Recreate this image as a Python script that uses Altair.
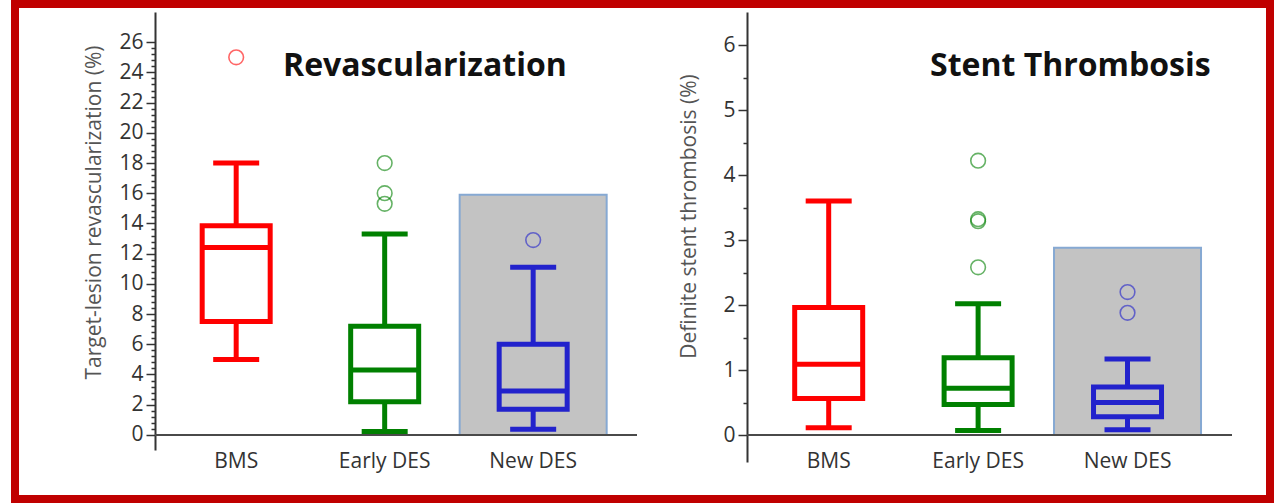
import altair as alt
import pandas as pd

cats = ["BMS", "Early DES", "New DES"]
colors = ["#ff0000", "#008000", "#2222cc"]

# Target-lesion revascularization (%)
tlr_low = [5.0, 0.22, 0.38]
tlr_q1 = [7.5, 2.2, 1.7]
tlr_med = [12.4, 4.3, 2.9]
tlr_q3 = [13.85, 7.2, 6.0]
tlr_high = [18.0, 13.3, 11.1]
tlr_out_cat = ["BMS", "Early DES", "Early DES", "Early DES", "New DES"]
tlr_out_val = [25.0, 18.0, 16.0, 15.3, 12.9]
tlr_shade = 15.9

# Definite stent thrombosis (%)
st_low = [0.11, 0.07, 0.08]
st_q1 = [0.56, 0.47, 0.28]
st_med = [1.09, 0.72, 0.50]
st_q3 = [1.96, 1.19, 0.74]
st_high = [3.6, 2.02, 1.17]
st_out_cat = ["Early DES", "Early DES", "Early DES", "Early DES", "New DES", "New DES"]
st_out_val = [4.22, 3.32, 3.29, 2.58, 2.2, 1.88]
st_shade = 2.88

# axis tick positions (major labelled, minor unlabelled)
tlr_ticks = [round(i * 0.4, 1) for i in range(66)]
st_ticks = [round(i * 0.5, 1) for i in range(13)]

FONT = "Open Sans"


def panel(low, q1, med, q3, high, out_cat, out_val, shade, ydom, yvals, major_test,
          ytitle, title_text, title_dx, width, height, title_x, title_y, xlabel_pad,
          with_frame=False):
    box = pd.DataFrame({"cat": cats, "low": low, "q1": q1, "med": med, "q3": q3, "high": high})
    out = pd.DataFrame({"cat": out_cat, "val": out_val})
    shade_df = pd.DataFrame({"cat": ["New DES"], "top": [shade], "zero": [0.0]})
    base_df = pd.DataFrame({"zero": [0.0]})

    xscale = alt.Scale(domain=cats, paddingInner=0, paddingOuter=0.123, align=0.19)
    xaxis = alt.Axis(title=None, labelAngle=0, ticks=False, tickSize=0, domain=False,
                     labelFont=FONT, labelFontSize=21, labelColor="#333",
                     labelBaseline="middle", labelPadding=xlabel_pad)
    x = alt.X("cat:N", scale=xscale, sort=cats, axis=xaxis)

    yscale = alt.Scale(domain=ydom, nice=False, zero=False)
    yaxis = alt.Axis(
        values=yvals, title=ytitle, grid=False, labelOverlap=False,
        labelExpr=f"({major_test}) ? toString(round(datum.value)) : ''",
        tickSize={"condition": {"test": major_test, "value": 9}, "value": 4},
        tickColor="#333", tickWidth=1.5, domainColor="#333", domainWidth=2,
        labelFont=FONT, labelFontSize=21, labelColor="#333", labelPadding=3,
        titleFont=FONT, titleFontSize=21, titleFontWeight="normal", titleColor="#555",
        titleX=title_x, titleY=title_y, titleAngle=-90, titleBaseline="middle",
    )

    def Y(field):
        return alt.Y(field, type="quantitative", scale=yscale, axis=yaxis)

    col = alt.Color("cat:N", scale=alt.Scale(domain=cats, range=colors), legend=None)
    stroke = alt.Stroke("cat:N", scale=alt.Scale(domain=cats, range=colors), legend=None)

    shade_l = alt.Chart(shade_df).mark_bar(
        color="#c3c3c3", stroke="#86a9d3", strokeWidth=2, size=147, opacity=1
    ).encode(x=x, y=Y("top"), y2="zero:Q")

    base_l = alt.Chart(base_df).mark_rule(color="#4a4a4a", strokeWidth=2).encode(y=Y("zero"))

    wl = alt.Chart(box).mark_rule(strokeWidth=5).encode(x=x, y=Y("low"), y2="q1:Q", color=col)
    wh = alt.Chart(box).mark_rule(strokeWidth=5).encode(x=x, y=Y("q3"), y2="high:Q", color=col)
    bx = alt.Chart(box).mark_bar(fillOpacity=0, strokeWidth=5, size=68, opacity=1).encode(
        x=x, y=Y("q1"), y2="q3:Q", stroke=stroke)
    md = alt.Chart(box).mark_tick(thickness=5, size=68, opacity=1).encode(x=x, y=Y("med"), color=col)
    cl = alt.Chart(box).mark_tick(thickness=5, size=46, opacity=1).encode(x=x, y=Y("low"), color=col)
    ch = alt.Chart(box).mark_tick(thickness=5, size=46, opacity=1).encode(x=x, y=Y("high"), color=col)
    ol = alt.Chart(out).mark_point(filled=False, size=215, strokeWidth=1.6, opacity=0.6).encode(
        x=x, y=Y("val"), color=col)

    ttl = alt.Chart(alt.Data(values=[{"t": title_text}])).mark_text(
        font=FONT, fontSize=32, fontWeight="bold", color="#111", align="left", baseline="middle"
    ).encode(text="t:N", x=alt.value(title_dx), y=alt.value(54))

    layers = [shade_l, base_l, wl, wh, bx, md, cl, ch, ol, ttl]
    if with_frame:
        frame = alt.Chart(alt.Data(values=[{}])).mark_rect(
            fillOpacity=0, stroke="#c00000", strokeWidth=8
        ).encode(x=alt.value(-140), x2=alt.value(1115), y=alt.value(-8), y2=alt.value(487))
        layers.append(frame)

    return alt.layer(*layers).properties(width=width, height=height)


left = panel(tlr_low, tlr_q1, tlr_med, tlr_q3, tlr_high, tlr_out_cat, tlr_out_val, tlr_shade,
             [-1, 28], tlr_ticks, "round(datum.value*10) % 20 === 0",
             "Target-lesion revascularization  (%)", "Revascularization", 128,
             482, 438, -61, 200, 11.5, with_frame=True)
right = panel(st_low, st_q1, st_med, st_q3, st_high, st_out_cat, st_out_val, st_shade,
              [-0.415, 6.508], st_ticks, "round(datum.value*10) % 10 === 0",
              "Definite stent thrombosis (%)", "Stent Thrombosis", 183,
              485, 450, -58, 204, -0.5)

chart = alt.hconcat(left, right, spacing=110, bounds="flush").properties(
    padding={"left": 11, "top": 0, "right": 2, "bottom": 0},
    background="white",
).configure_view(stroke=None)

chart.save("out.html", embed_options={"renderer": "svg", "actions": False})
